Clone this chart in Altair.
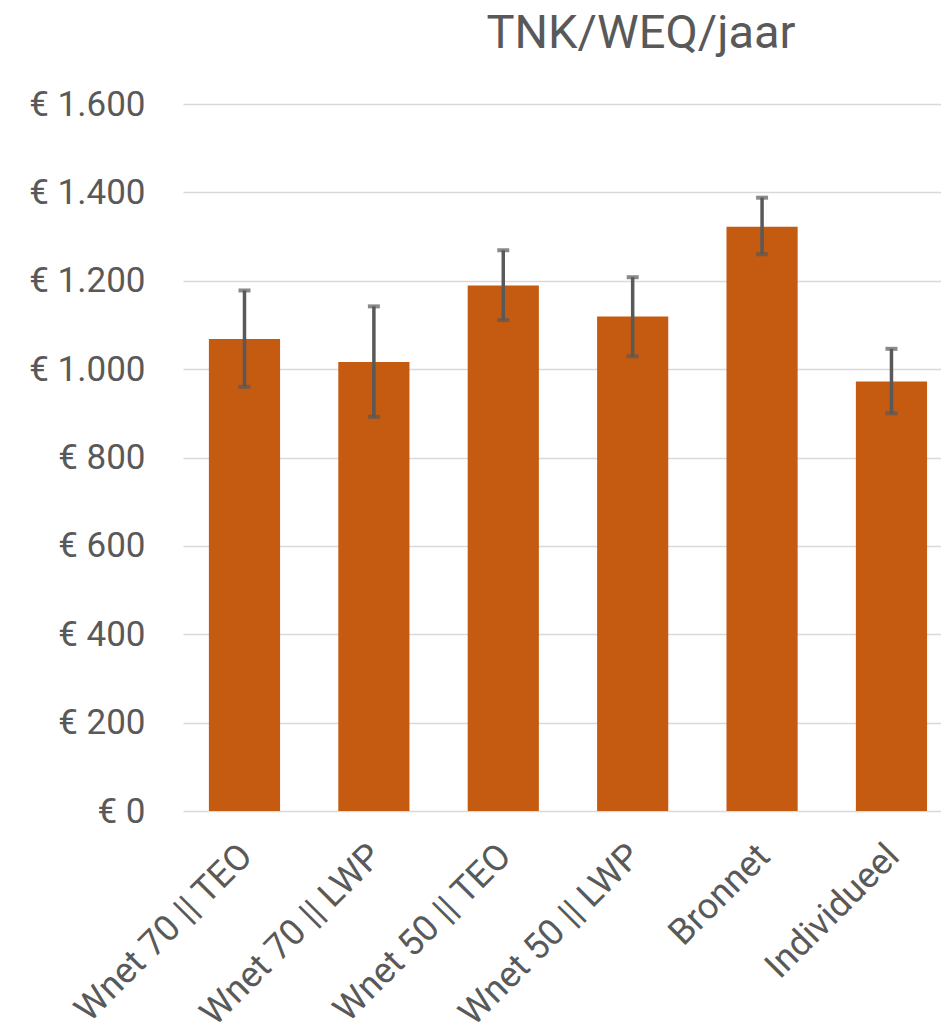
import altair as alt
import pandas as pd

categories = ["Wnet 70 || TEO", "Wnet 70 || LWP", "Wnet 50 || TEO", "Wnet 50 || LWP", "Bronnet", "Individueel"]
values = [1068, 1016, 1189, 1119, 1322, 972]
err_low = [960, 892, 1111, 1029, 1260, 900]
err_high = [1178, 1142, 1269, 1208, 1388, 1046]
title_text = ["TNK/WEQ/jaar"]

df = pd.DataFrame({"cat": categories, "val": values, "lo": err_low, "hi": err_high})

GREY = "#595959"
FONT = "Roboto"

x = alt.X("cat:N", sort=categories, title=None,
          scale=alt.Scale(paddingInner=0.45, paddingOuter=0.154, align=0.65),
          axis=alt.Axis(labelAngle=-45, labelFontSize=36, labelColor=GREY, labelFont=FONT,
                        labelPadding=27, labelOffset=-10, ticks=False, domain=False, grid=False,
                        labelLimit=400))
y_axis = alt.Axis(values=[0, 200, 400, 600, 800, 1000, 1200, 1400, 1600],
                  labelExpr="'€ ' + replace(format(datum.value, ','), ',', '.')",
                  labelFontSize=35, labelColor=GREY, labelFont=FONT, labelPadding=38,
                  ticks=False, domain=False, grid=True, gridColor="#d9d9d9", gridWidth=1.5)
yscale = alt.Scale(domain=[0, 1600], nice=False)

bars = alt.Chart(df).mark_bar(color="#c55a11").encode(
    x=x, y=alt.Y("val:Q", scale=yscale, axis=y_axis, title=None))
rules = alt.Chart(df).mark_rule(color=GREY, strokeWidth=3.5).encode(
    x=alt.X("cat:N", sort=categories), y="lo:Q", y2="hi:Q")
cap_lo = alt.Chart(df).mark_tick(color=GREY, size=12, thickness=4, orient="horizontal").encode(
    x=alt.X("cat:N", sort=categories), y="lo:Q")
cap_hi = alt.Chart(df).mark_tick(color=GREY, size=12, thickness=4, orient="horizontal").encode(
    x=alt.X("cat:N", sort=categories), y="hi:Q")
title = alt.Chart(pd.DataFrame({"t": title_text})).mark_text(
    fontSize=47, font=FONT, color=GREY, align="center", baseline="alphabetic"
).encode(text="t:N", x=alt.value(458), y=alt.value(-56))

chart = alt.layer(bars, rules, cap_lo, cap_hi, title).properties(
    width=758, height=707,
    padding={"left": 175, "top": 96, "right": 0, "bottom": 226},
    autosize=alt.AutoSizeParams(type="none"),
).configure_view(stroke=None)

chart.save("out.html", embed_options={"renderer": "svg", "actions": False})
